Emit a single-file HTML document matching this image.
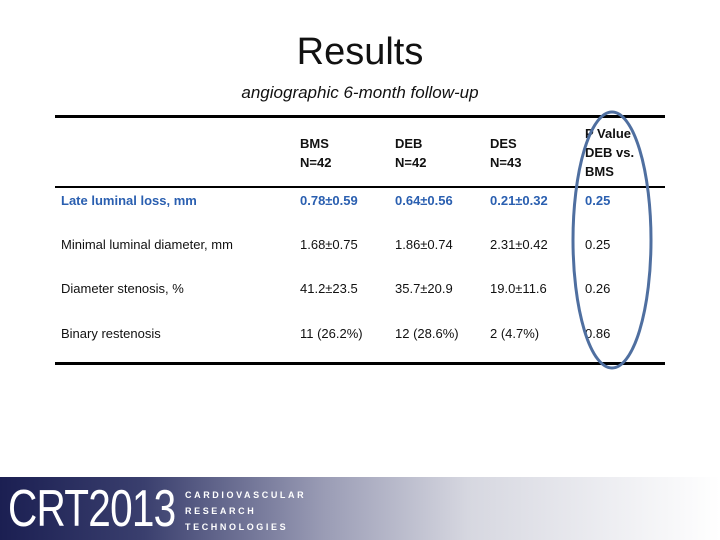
<!DOCTYPE html>
<html><head><meta charset="utf-8"><style>
body{margin:0;width:720px;height:540px;position:relative;background:#fff;font-family:"Liberation Sans",sans-serif;overflow:hidden}
.t{position:absolute;font-size:13px;color:#111;white-space:nowrap}
.b{color:#2a5fb0;font-weight:bold}
.h{font-size:13px;line-height:19px;font-weight:bold}
</style></head><body>
<div style="position:absolute;top:31px;width:720px;text-align:center;font-size:38px;color:#111">Results</div>
<div style="position:absolute;top:83px;left:0;width:720px;text-align:center;font-size:17px;font-style:italic;color:#111">angiographic 6-month follow-up</div>
<div style="position:absolute;left:55px;top:115px;width:610px;height:3px;background:#000"></div>
<div style="position:absolute;left:55px;top:186px;width:610px;height:2px;background:#000"></div>
<div style="position:absolute;left:55px;top:362px;width:610px;height:3px;background:#000"></div>
<div class="t h" style="left:300px;top:134px">BMS<br>N=42</div>
<div class="t h" style="left:395px;top:134px">DEB<br>N=42</div>
<div class="t h" style="left:490px;top:134px">DES<br>N=43</div>
<div class="t h" style="left:585px;top:124px">P Value<br>DEB vs.<br>BMS</div>
<div class="t b" style="left:61px;top:193px">Late luminal loss, mm</div>
<div class="t b" style="left:300px;top:193px">0.78±0.59</div>
<div class="t b" style="left:395px;top:193px">0.64±0.56</div>
<div class="t b" style="left:490px;top:193px">0.21±0.32</div>
<div class="t b" style="left:585px;top:193px">0.25</div>
<div class="t" style="left:61px;top:237px">Minimal luminal diameter, mm</div>
<div class="t" style="left:300px;top:237px">1.68±0.75</div>
<div class="t" style="left:395px;top:237px">1.86±0.74</div>
<div class="t" style="left:490px;top:237px">2.31±0.42</div>
<div class="t" style="left:585px;top:237px">0.25</div>
<div class="t" style="left:61px;top:281px">Diameter stenosis, %</div>
<div class="t" style="left:300px;top:281px">41.2±23.5</div>
<div class="t" style="left:395px;top:281px">35.7±20.9</div>
<div class="t" style="left:490px;top:281px">19.0±11.6</div>
<div class="t" style="left:585px;top:281px">0.26</div>
<div class="t" style="left:61px;top:326px">Binary restenosis</div>
<div class="t" style="left:300px;top:326px">11 (26.2%)</div>
<div class="t" style="left:395px;top:326px">12 (28.6%)</div>
<div class="t" style="left:490px;top:326px">2 (4.7%)</div>
<div class="t" style="left:585px;top:326px">0.86</div>
<svg style="position:absolute;left:0;top:0" width="720" height="540"><ellipse cx="612" cy="240" rx="39" ry="128" fill="none" stroke="#4f6fa0" stroke-width="3"/></svg>
<div style="position:absolute;left:0;top:477px;width:720px;height:63px;background:linear-gradient(to right,#1b1f52 0%,#3a3f6e 20%,#9a9cb5 45%,#d6d7e0 65%,#ffffff 100%)">
<div style="position:absolute;left:8px;top:2px;font-size:52px;color:#fff;font-family:'Liberation Sans Narrow','Liberation Sans',sans-serif;transform:scaleX(0.78);transform-origin:left;letter-spacing:-1px">CRT2013</div>
<div style="position:absolute;left:185px;top:10px;font-size:9px;line-height:16px;color:#fff;font-weight:bold;letter-spacing:2.6px">CARDIOVASCULAR<br>RESEARCH<br>TECHNOLOGIES</div>
</div>
</body></html>
